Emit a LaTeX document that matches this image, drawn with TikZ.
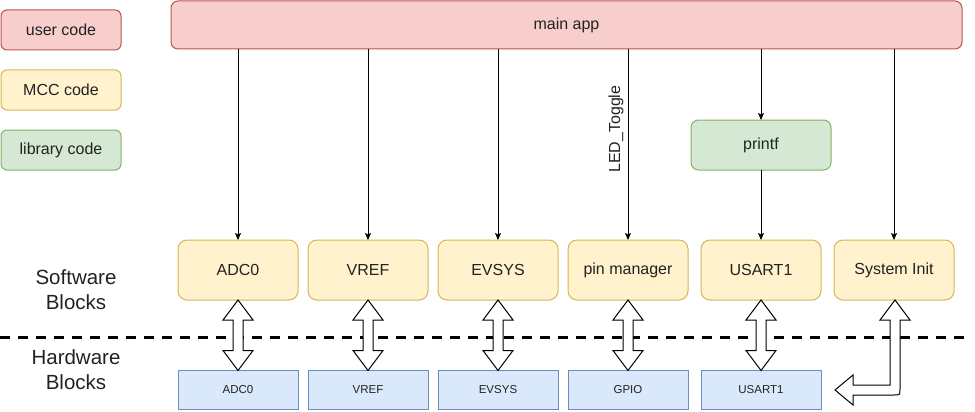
\documentclass[tikz,border=0pt]{standalone}
\usepackage{fontspec}
\setmainfont{Liberation Sans}
\usetikzlibrary{calc,arrows.meta}
\definecolor{txt}{HTML}{222222}
\definecolor{redf}{HTML}{F8CECC}\definecolor{redd}{HTML}{B85450}
\definecolor{yelf}{HTML}{FFF2CC}\definecolor{yeld}{HTML}{D6B656}
\definecolor{grnf}{HTML}{D5E8D4}\definecolor{grnd}{HTML}{82B366}
\definecolor{bluf}{HTML}{DAE8FC}\definecolor{blud}{HTML}{6C8EBF}
\tikzset{
  box/.style={draw, line width=1pt, inner sep=0pt, outer sep=0pt, text=txt,
    font=\fontsize{16}{19}\selectfont},
  legendbox/.style={box, minimum width=120pt, minimum height=40pt, rounded corners=6pt},
  userc/.style={draw=redd, fill=redf},
  mccc/.style={draw=yeld, fill=yelf},
  libc/.style={draw=grnd, fill=grnf},
  swbox/.style={box, mccc, minimum width=120pt, minimum height=60pt, rounded corners=9pt},
  hwbox/.style={box, draw=blud, fill=bluf, minimum width=120pt, minimum height=39pt,
    font=\fontsize{11.5}{14}\selectfont},
  conn/.style={line width=1pt, -{Stealth[length=7pt,width=6pt,inset=1.5pt]}},
  bigarrow/.style={draw=black, fill=white, line width=1pt, line join=miter},
  sidelabel/.style={text=txt, align=center, font=\fontsize{20.5}{25}\selectfont},
}
\newcommand\dblarr[2]{%
  \path[bigarrow] let \p1=(#1.south), \p2=(#2.north) in
    (\p1) -- (\x1+15pt,\y1-20pt) -- (\x1+5pt,\y1-20pt) -- (\x1+5pt,\y2+20pt)
    -- (\x1+15pt,\y2+20pt) -- (\x1,\y2) -- (\x1-15pt,\y2+20pt) -- (\x1-5pt,\y2+20pt)
    -- (\x1-5pt,\y1-20pt) -- (\x1-15pt,\y1-20pt) -- cycle;}
\begin{document}
\begin{tikzpicture}[x=1pt,y=-1pt]
\useasboundingbox (0,0) rectangle (975,412);
% legend
\node[legendbox, userc] (lu) at (61,30) {user code};
\node[legendbox, mccc] (lm) at (61,90) {MCC code};
\node[legendbox, libc] (ll) at (61,150) {library code};
% main app
\node[box, userc, minimum width=791pt, minimum height=48pt, rounded corners=7pt] (main) at (566.5,25) {main app};
% software blocks
\node[swbox] (sw1) at (238,270) {ADC0};
\node[swbox] (sw2) at (368,270) {VREF};
\node[swbox] (sw3) at (498,270) {EVSYS};
\node[swbox] (sw4) at (628,270) {pin manager};
\node[swbox] (sw5) at (761,270) {USART1};
\node[swbox] (sw6) at (894,270) {System Init};
% printf
\node[box, libc, minimum width=140pt, minimum height=50pt, rounded corners=7.5pt] (pf) at (761,145) {printf};
% hardware blocks
\node[hwbox] (hw1) at (238,390) {ADC0};
\node[hwbox] (hw2) at (368,390) {VREF};
\node[hwbox] (hw3) at (498,390) {EVSYS};
\node[hwbox] (hw4) at (628,390) {GPIO};
\node[hwbox] (hw5) at (761,390) {USART1};
% side labels
\node[sidelabel] (swl) at (76,290) {Software\\Blocks};
\node[sidelabel] (hwl) at (76,370) {Hardware\\Blocks};
% dashed separator
\draw[line width=3pt, dash pattern=on 10pt off 8pt] (0,337) -- (966,337);
% connectors
\draw[conn] (main.south -| sw1.north) -- (sw1.north);
\draw[conn] (main.south -| sw2.north) -- (sw2.north);
\draw[conn] (main.south -| sw3.north) -- (sw3.north);
\draw[conn] (main.south -| sw4.north) -- node[pos=0.42, rotate=90, anchor=south, inner sep=4pt, text=txt, font=\fontsize{16}{19}\selectfont] {LED\_Toggle} (sw4.north);
\draw[conn] (main.south -| pf.north) -- (pf.north);
\draw[conn] (pf.south) -- (sw5.north);
\draw[conn] (main.south -| sw6.north) -- (sw6.north);
% double arrows
\dblarr{sw1}{hw1}
\dblarr{sw2}{hw2}
\dblarr{sw3}{hw3}
\dblarr{sw4}{hw4}
\dblarr{sw5}{hw5}
% bent arrow from System Init
\path[bigarrow] (895,300) -- (910,320) -- (900,320) -- (900,389) .. controls (900,395) .. (894,395)
  -- (853,395) -- (853,405) -- (835,390) -- (853,375) -- (853,385) -- (890,385) -- (890,320)
  -- (880,320) -- cycle;
\end{tikzpicture}
\end{document}
